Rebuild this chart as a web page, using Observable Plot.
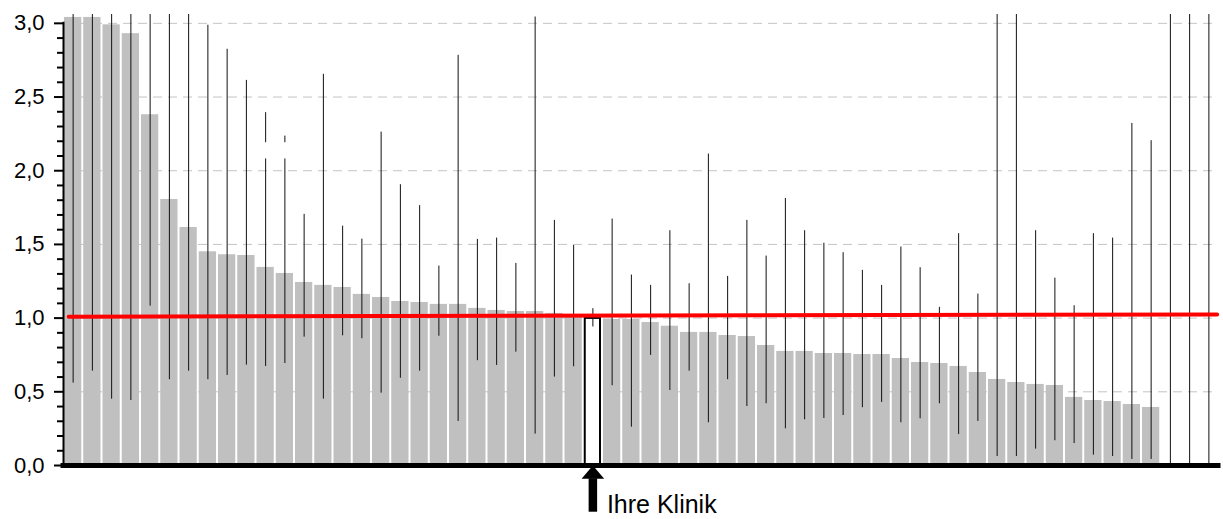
<!DOCTYPE html>
<html>
<head>
<meta charset="utf-8">
<script src="https://cdn.jsdelivr.net/npm/d3@7"></script>
<script src="https://cdn.jsdelivr.net/npm/@observablehq/plot@0.6"></script>
<style>
  html, body { margin: 0; padding: 0; background: #fff; }
</style>
</head>
<body>
<div id="chart"></div>
<script>
// Ratio per clinic (sorted), with confidence interval; last three: interval only
const ratio = [3.04, 3.04, 2.99, 2.93, 2.38, 1.805, 1.615, 1.45, 1.43, 1.425,
  1.344, 1.303, 1.242, 1.222, 1.208, 1.161, 1.14, 1.113, 1.106, 1.093,
  1.093, 1.066, 1.052, 1.045, 1.045, 1.032, 1.01, 0.998, 0.991, 0.991,
  0.97, 0.945, 0.903, 0.903, 0.882, 0.875, 0.814, 0.774, 0.774, 0.76,
  0.76, 0.753, 0.753, 0.726, 0.699, 0.692, 0.672, 0.631, 0.584, 0.563,
  0.55, 0.543, 0.462, 0.441, 0.434, 0.414, 0.394, null, null, null];
const upper = [3.06, 3.06, 3.06, 3.06, 3.06, 3.06, 3.06, 2.987, 2.824, 2.613,
  2.394, 2.235, 1.704, 2.654, 1.624, 1.536, 2.262, 1.905, 1.763, 1.353,
  2.783, 1.534, 1.543, 1.371, 3.043, 1.663, 1.493, 1.064, 1.672, 1.292,
  1.222, 1.593, 1.233, 2.113, 1.283, 1.663, 1.421, 1.812, 1.593, 1.508,
  1.444, 1.324, 1.222, 1.482, 1.342, 1.073, 1.573, 1.163, 3.06, 3.06,
  1.593, 1.271, 1.084, 1.573, 1.543, 2.321, 2.204, 3.06, 3.06, 3.06];
const lower = [0.559, 0.64, 0.45, 0.441, 1.081, 0.582, 0.64, 0.582, 0.611, 0.681,
  0.672, 0.692, 0.871, 0.45, 0.88, 0.86, 0.491, 0.592, 0.64, 0.877,
  0.299, 0.711, 0.679, 0.769, 0.213, 0.6, 0.67, 0.94, 0.541, 0.26,
  0.747, 0.509, 0.64, 0.29, 0.582, 0.4, 0.419, 0.249, 0.31, 0.319,
  0.339, 0.392, 0.428, 0.29, 0.317, 0.419, 0.21, 0.299, 0.061, 0.061,
  0.111, 0.168, 0.149, 0.07, 0.061, 0.041, 0.041, 0, 0, 0];
const ownClinic = 27;                 // position of "Ihre Klinik"
const ownLabel = "Ihre Klinik";
const majorTicks = [0, 0.5, 1, 1.5, 2, 2.5, 3];
const minorTicks = [0.1, 0.2, 0.3, 0.4, 0.6, 0.7, 0.8, 0.9, 1.1, 1.2, 1.3, 1.4,
  1.6, 1.7, 1.8, 1.9, 2.1, 2.2, 2.3, 2.4, 2.6, 2.7, 2.8, 2.9];
// reference line (slightly tilted as in the picture)
const refX = [0.27, 59.93];
const refY = [1.01, 1.025];
// hidden label area that interrupts two intervals
const maskBox = [{x1: 10.2, x2: 11.8, y1: 2.08, y2: 2.19}];
// arrow annotation (value units below the axis)
const arrowShaft = [{y1: -0.317, y2: -0.09}];
const labelY = -0.32;

const data = ratio.map((v, i) => ({i, v, lo: lower[i], hi: upper[i]}));
const bars = data.filter(d => d.v != null && d.i !== ownClinic);
const own = data.filter(d => d.i === ownClinic);

const arrowHead = {
  draw(ctx) {
    ctx.moveTo(0, 0);
    ctx.lineTo(11.3, 13.3);
    ctx.lineTo(-11.3, 13.3);
    ctx.closePath();
  }
};

const fmt = t => t.toFixed(1).replace(".", ",");

const chart = Plot.plot({
  width: 1223,
  height: 519,
  marginLeft: 63,
  marginRight: 5,
  marginTop: 14,
  marginBottom: 54,
  style: {fontFamily: "'Liberation Sans', Arial, sans-serif", fontSize: "22px", color: "#000", background: "#fff"},
  x: {type: "linear", domain: [0, 60], axis: null},
  y: {domain: [0, 3.06]},
  marks: [
    Plot.gridY(majorTicks.filter(t => t > 0), {stroke: "#c4c4c4", strokeOpacity: 1, strokeWidth: 1, strokeDasharray: "9,6"}),
    Plot.rect(bars, {x1: d => d.i, x2: d => d.i + 1, y1: 0, y2: "v", fill: "#c0c0c0", insetLeft: 1, insetRight: 1}),
    Plot.rect(own, {x1: d => d.i, x2: d => d.i + 1, y1: 0, y2: "v", fill: "#fff", stroke: "#000", strokeWidth: 2, insetLeft: 2, insetRight: 2}),
    Plot.ruleX(data, {x: d => d.i + 0.5, y1: "lo", y2: "hi", stroke: "#111", strokeWidth: 1}),
    Plot.rect(maskBox, {x1: "x1", x2: "x2", y1: "y1", y2: "y2", fill: "#fff"}),
    Plot.line(refX.map((x, k) => ({x, y: refY[k]})), {x: "x", y: "y", stroke: "#ff0000", strokeWidth: 4}),
    Plot.ruleY([0], {stroke: "#000", strokeWidth: 5, strokeLinecap: "square"}),
    Plot.ruleX([0], {y1: 0, y2: 3, stroke: "#000", strokeWidth: 2, strokeLinecap: "square"}),
    Plot.axisY({ticks: minorTicks, tickSize: 6, tickFormat: () => "", strokeWidth: 2, label: null}),
    Plot.axisY({ticks: majorTicks, tickSize: 9, tickPadding: 10, strokeWidth: 2, tickFormat: fmt, fontSize: 22, fill: "#000", label: null}),
    Plot.ruleX(arrowShaft, {x: ownClinic + 0.5, y1: "y1", y2: "y2", stroke: "#000", strokeWidth: 8.5}),
    Plot.dot([ownClinic], {x: d => d + 0.5, y: 0, symbol: arrowHead, fill: "#000", stroke: null, r: 10}),
    Plot.text([ownLabel], {x: ownClinic + 0.5, y: labelY, text: d => d, dx: 14, textAnchor: "start", lineAnchor: "bottom", fontSize: 25, fill: "#000"})
  ]
});
document.getElementById("chart").appendChild(chart);
</script>
</body>
</html>
